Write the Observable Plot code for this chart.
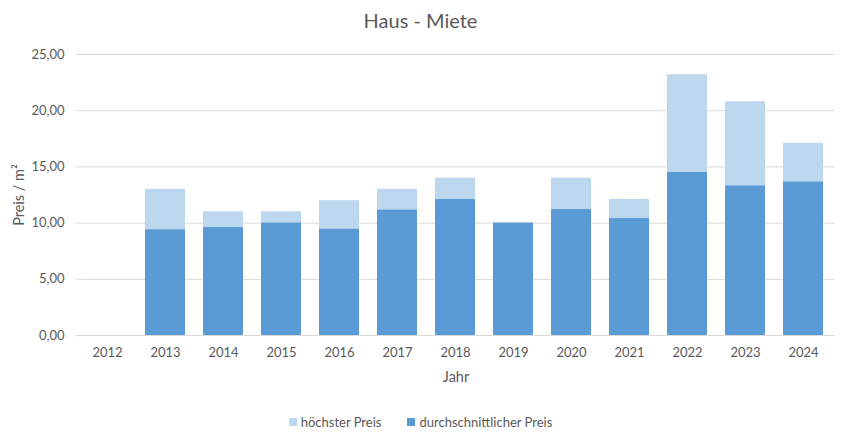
<!DOCTYPE html>
<html>
<head>
<meta charset="utf-8">
<script src="https://cdn.jsdelivr.net/npm/d3@7"></script>
<script src="https://cdn.jsdelivr.net/npm/@observablehq/plot@0.6"></script>
<style>
  body { margin: 0; background: #fff; font-family: Lato, "Open Sans", sans-serif; color: #595959; }
  #wrap { width: 841px; height: 434px; position: relative; }
  #title { height: 40px; line-height: 40px; text-align: center; font-size: 20px; color: #595959; }
  #legend { position: absolute; top: 413px; left: 0; width: 841px; text-align: center; font-size: 13px; color: #595959; }
  .item { display: inline-flex; align-items: center; }
  .sw { width: 8px; height: 8px; display: inline-block; margin-right: 4px; }
  svg g[aria-label="y-axis label"], svg g[aria-label="y-axis label"] text,
  svg g[aria-label="x-axis label"], svg g[aria-label="x-axis label"] text { font-size: 14.5px; }
</style>
</head>
<body>
<div id="wrap">
  <div id="title">Haus - Miete</div>
  <div id="chart"></div>
  <div id="legend"></div>
</div>
<script>
const years = ["2012","2013","2014","2015","2016","2017","2018","2019","2020","2021","2022","2023","2024"];
const hoechster = [null, 13.0, 11.0, 11.0, 12.0, 13.0, 14.0, 10.0, 14.0, 12.1, 23.2, 20.8, 17.1];
const durchschnitt = [null, 9.4, 9.6, 10.0, 9.45, 11.15, 12.1, 10.0, 11.2, 10.4, 14.5, 13.3, 13.65];
const yTicks = [0, 5, 10, 15, 20, 25];
const seriesNames = ["höchster Preis", "durchschnittlicher Preis"];
const colors = ["#BDD7EE", "#5B9BD5"];

const rows = years.map((y, i) => ({year: y, hi: hoechster[i], avg: durchschnitt[i]}));
const fmt = d => d.toFixed(2).replace(".", ",");

const chart = Plot.plot({
  width: 841,
  height: 360,
  marginTop: 14,
  marginBottom: 65,
  marginLeft: 76,
  marginRight: 6,
  style: { fontFamily: "Lato, 'Open Sans', sans-serif", fontSize: "13px", color: "#595959", background: "#fff" },
  x: { domain: years, paddingInner: 0.31, paddingOuter: 0.155, label: null },
  y: { domain: [0, 25], label: null },
  marks: [
    Plot.gridY(yTicks, { stroke: "#D9D9D9", strokeOpacity: 1 }),
    Plot.barY(rows.filter(d => d.hi != null), { x: "year", y: "hi", fill: colors[0] }),
    Plot.barY(rows.filter(d => d.avg != null), { x: "year", y: "avg", fill: colors[1] }),
    Plot.ruleY([0], { stroke: "#D9D9D9" }),
    Plot.axisY(yTicks, { tickFormat: fmt, tickSize: 0, tickPadding: 12, fontSize: 13,
      label: "Preis / m²", labelAnchor: "center", labelArrow: "none", labelOffset: 63 }),
    Plot.axisX({ tickSize: 0, tickPadding: 12, fontSize: 13,
      label: "Jahr", labelAnchor: "center", labelArrow: "none", labelOffset: 46 })
  ]
});
document.getElementById("chart").appendChild(chart);

const legend = document.getElementById("legend");
seriesNames.forEach((n, i) => {
  const s = document.createElement("span");
  s.className = "item";
  s.style.margin = i === 0 ? "0 26px 0 0" : "0";
  s.innerHTML = `<span class="sw" style="background:${colors[i]}"></span>${n}`;
  legend.appendChild(s);
});
</script>
</body>
</html>
